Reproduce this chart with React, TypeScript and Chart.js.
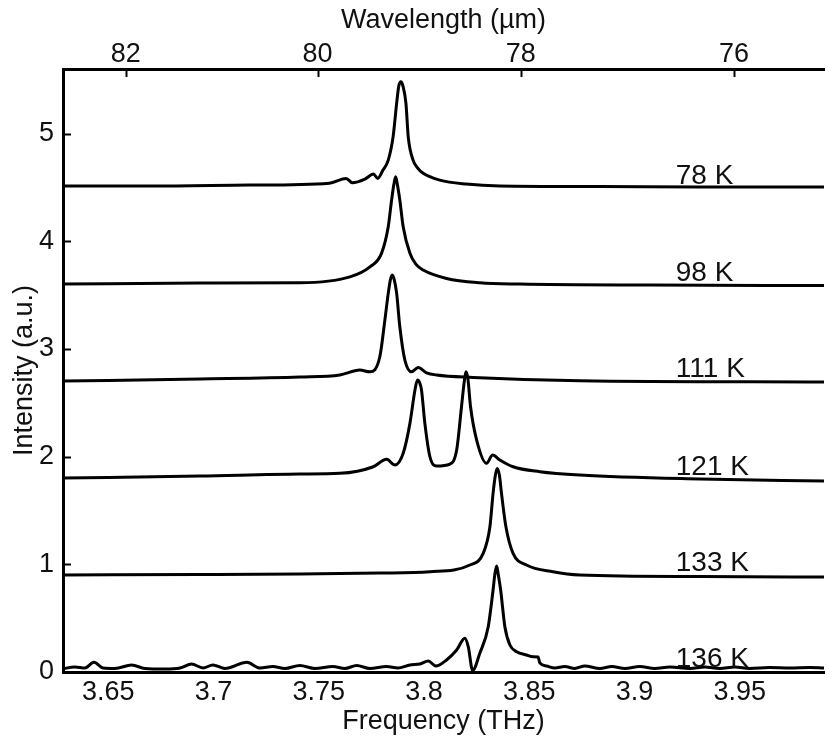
import React, { useEffect, useRef } from "react";
import { Chart, registerables } from "chart.js";

Chart.register(...registerables);

// ---------- Data ----------
const freqTicks = [3.65, 3.7, 3.75, 3.8, 3.85, 3.9, 3.95];
const freqTickLabels = ["3.65", "3.7", "3.75", "3.8", "3.85", "3.9", "3.95"];
const yTicks = [0, 1, 2, 3, 4, 5];
const wavelengthLabels = ["82", "80", "78", "76"];
const wavelengthTickFreqs = [3.6583, 3.7494, 3.8459, 3.9473];

const tempLabels = ["78 K", "98 K", "111 K", "121 K", "133 K", "136 K"];
const tempLabelLevels = [4.53, 3.63, 2.74, 1.83, 0.94, 0.05];
const tempLabelFreq = 3.9196;

const freq78 = [3.628, 3.670, 3.717, 3.755, 3.763, 3.766, 3.772, 3.776, 3.778, 3.7805, 3.783, 3.7853, 3.787, 3.788, 3.789, 3.790, 3.7914, 3.7925, 3.7948, 3.797, 3.7996, 3.8075, 3.820, 3.836, 3.8835, 3.931, 3.990];
const int78 = [4.513, 4.513, 4.522, 4.540, 4.584, 4.543, 4.578, 4.624, 4.584, 4.661, 4.754, 4.970, 5.283, 5.441, 5.481, 5.441, 5.283, 4.970, 4.754, 4.680, 4.631, 4.568, 4.531, 4.513, 4.508, 4.503, 4.503];

const freq98 = [3.628, 3.6936, 3.741, 3.7648, 3.7743, 3.7798, 3.783, 3.7846, 3.7857, 3.7865, 3.7873, 3.7885, 3.7901, 3.7933, 3.7961, 3.7996, 3.8107, 3.8265, 3.8455, 3.9073, 3.990];
const int98 = [3.603, 3.612, 3.615, 3.670, 3.763, 3.888, 4.135, 4.383, 4.531, 4.599, 4.531, 4.383, 4.135, 3.888, 3.788, 3.733, 3.655, 3.615, 3.603, 3.593, 3.589];

const freq111 = [3.628, 3.6936, 3.741, 3.760, 3.7695, 3.7743, 3.779, 3.7814, 3.783, 3.784, 3.7849, 3.7859, 3.787, 3.7885, 3.7909, 3.7941, 3.7972, 3.8012, 3.806, 3.8233, 3.874, 3.990];
const int111 = [2.702, 2.721, 2.739, 2.758, 2.804, 2.788, 2.928, 3.268, 3.516, 3.640, 3.686, 3.640, 3.516, 3.206, 2.897, 2.788, 2.827, 2.779, 2.758, 2.736, 2.705, 2.693];

const freq121 = [3.628, 3.6936, 3.741, 3.760, 3.7759, 3.7822, 3.7862, 3.7901, 3.7933, 3.7957, 3.7969, 3.798, 3.7988, 3.8004, 3.8028, 3.806, 3.8123, 3.8155, 3.8178, 3.8192, 3.8199, 3.8208, 3.8221, 3.825, 3.8297, 3.8326, 3.836, 3.8423, 3.855, 3.874, 3.931, 3.990];
const int121 = [1.801, 1.820, 1.839, 1.845, 1.906, 1.975, 1.922, 2.031, 2.309, 2.619, 2.711, 2.683, 2.619, 2.309, 1.999, 1.913, 1.931, 2.061, 2.463, 2.711, 2.788, 2.730, 2.463, 2.154, 1.938, 2.015, 1.969, 1.906, 1.860, 1.829, 1.792, 1.774];

const freq133 = [3.628, 3.6936, 3.741, 3.779, 3.8028, 3.8218, 3.8281, 3.8313, 3.8328, 3.8339, 3.8347, 3.8358, 3.8368, 3.8389, 3.8423, 3.8487, 3.8613, 3.874, 3.931, 3.990];
const int133 = [0.901, 0.905, 0.910, 0.919, 0.931, 0.994, 1.102, 1.349, 1.659, 1.829, 1.891, 1.829, 1.659, 1.349, 1.102, 0.994, 0.931, 0.901, 0.887, 0.882];

const freq136 = [3.628, 3.6342, 3.6389, 3.6432, 3.6475, 3.6532, 3.6611, 3.6674, 3.6769, 3.6841, 3.6896, 3.695, 3.6997, 3.7054, 3.7159, 3.722, 3.7282, 3.7339, 3.741, 3.7482, 3.7567, 3.7624, 3.768, 3.7743, 3.7822, 3.7876, 3.7933, 3.798, 3.802, 3.8056, 3.8107, 3.8155, 3.8194, 3.821, 3.8231, 3.8265, 3.8305, 3.8328, 3.8336, 3.8345, 3.8353, 3.8364, 3.8384, 3.8408, 3.844, 3.8487, 3.8518, 3.8542, 3.855, 3.8582, 3.8621, 3.8669, 3.8716, 3.8764, 3.8835, 3.8892, 3.8954, 3.9025, 3.9096, 3.9168, 3.9263, 3.9334, 3.9405, 3.9476, 3.9547, 3.9642, 3.9737, 3.9832, 3.990];
const int136 = [0.028, 0.047, 0.037, 0.090, 0.037, 0.033, 0.065, 0.033, 0.028, 0.037, 0.074, 0.037, 0.065, 0.033, 0.090, 0.037, 0.051, 0.033, 0.060, 0.033, 0.051, 0.033, 0.060, 0.033, 0.051, 0.037, 0.065, 0.074, 0.102, 0.056, 0.112, 0.204, 0.313, 0.235, 0.014, 0.174, 0.421, 0.762, 0.901, 0.984, 0.901, 0.762, 0.421, 0.251, 0.189, 0.158, 0.142, 0.139, 0.084, 0.056, 0.037, 0.051, 0.033, 0.056, 0.033, 0.051, 0.033, 0.051, 0.033, 0.047, 0.033, 0.047, 0.033, 0.047, 0.033, 0.042, 0.037, 0.042, 0.037];

const seriesFreqs = [freq78, freq98, freq111, freq121, freq133, freq136];
const seriesInts = [int78, int98, int111, int121, int133, int136];

const X_MIN = 3.6285;
const X_MAX = 3.99;
const Y_MIN = 0;
const Y_MAX = 5.6;

const FONT_FAMILY = '"Liberation Sans", Arial, Helvetica, sans-serif';
const TEXT_COLOR = "#111";
const FONT_SIZE = 27;

const overlayPlugin = {
  id: "overlay",
  afterDraw(chart: any) {
    const { ctx, chartArea, scales } = chart;
    ctx.save();
    ctx.strokeStyle = "#000";
    ctx.lineWidth = 2;
    yTicks.forEach((v) => {
      const py = Math.round(scales.y.getPixelForValue(v)) + 0.5;
      ctx.beginPath();
      ctx.moveTo(chartArea.left, py);
      ctx.lineTo(chartArea.left + 8, py);
      ctx.stroke();
    });
    wavelengthTickFreqs.forEach((f) => {
      const px = Math.round(scales.x2.getPixelForValue(f)) + 0.5;
      ctx.beginPath();
      ctx.moveTo(px, chartArea.top);
      ctx.lineTo(px, chartArea.top + 8);
      ctx.stroke();
    });
    ctx.font = `28px ${FONT_FAMILY}`;
    ctx.fillStyle = TEXT_COLOR;
    ctx.textAlign = "left";
    ctx.textBaseline = "alphabetic";
    tempLabels.forEach((t, i) => {
      ctx.fillText(
        t,
        scales.x.getPixelForValue(tempLabelFreq),
        scales.y.getPixelForValue(tempLabelLevels[i])
      );
    });
    ctx.restore();
  },
};

export default function App() {
  const ref = useRef<HTMLCanvasElement | null>(null);

  useEffect(() => {
    if (!ref.current) return;
    const datasets = seriesFreqs.map((fs, si) => ({
      label: tempLabels[si],
      data: fs.map((f, k) => ({ x: f, y: seriesInts[si][k] })),
      borderColor: "#000",
      borderWidth: 3,
      pointRadius: 0,
      fill: false,
      cubicInterpolationMode: "monotone" as const,
    }));

    const chart = new Chart(ref.current, {
      type: "line",
      data: { datasets },
      plugins: [overlayPlugin],
      options: {
        animation: false,
        responsive: false,
        devicePixelRatio: 1,
        layout: { padding: { left: 0, right: 1, top: 0, bottom: 0 } },
        plugins: {
          legend: { display: false },
          tooltip: { enabled: false },
        },
        scales: {
          x: {
            type: "linear",
            position: "bottom",
            min: X_MIN,
            max: X_MAX,
            afterBuildTicks: (s: any) => {
              s.ticks = freqTicks.map((v) => ({ value: v }));
            },
            afterFit: (s: any) => {
              s.height = 66;
            },
            grid: { display: false, drawTicks: false },
            border: { display: true, color: "#000", width: 3 },
            ticks: {
              padding: 7,
              color: TEXT_COLOR,
              maxRotation: 0,
              autoSkip: false,
              font: { family: FONT_FAMILY, size: FONT_SIZE, lineHeight: 1 },
              callback: (_v: any, i: number) => freqTickLabels[i],
            },
            title: {
              display: true,
              text: "Frequency (THz)",
              color: TEXT_COLOR,
              font: { family: FONT_FAMILY, size: FONT_SIZE, lineHeight: 1.2 },
              padding: { top: 0, bottom: 0 },
            },
          },
          x2: {
            type: "linear",
            position: "top",
            min: X_MIN,
            max: X_MAX,
            afterBuildTicks: (s: any) => {
              s.ticks = wavelengthTickFreqs.map((v) => ({ value: v }));
            },
            afterFit: (s: any) => {
              s.height = 69;
            },
            grid: { display: false, drawTicks: false },
            border: { display: true, color: "#000", width: 3 },
            ticks: {
              padding: 1,
              color: TEXT_COLOR,
              maxRotation: 0,
              autoSkip: false,
              font: { family: FONT_FAMILY, size: FONT_SIZE, lineHeight: 1 },
              callback: (_v: any, i: number) => wavelengthLabels[i],
            },
            title: {
              display: true,
              text: "Wavelength (µm)",
              color: TEXT_COLOR,
              font: { family: FONT_FAMILY, size: FONT_SIZE, lineHeight: 1.2 },
              padding: { top: 4.5, bottom: 0 },
            },
          },
          y: {
            type: "linear",
            position: "left",
            min: Y_MIN,
            max: Y_MAX,
            afterBuildTicks: (s: any) => {
              s.ticks = yTicks.map((v) => ({ value: v }));
            },
            afterFit: (s: any) => {
              s.width = 63;
            },
            grid: { display: false, drawTicks: false },
            border: { display: true, color: "#000", width: 3 },
            ticks: {
              padding: 9,
              color: TEXT_COLOR,
              font: { family: FONT_FAMILY, size: FONT_SIZE, lineHeight: 1 },
              callback: (v: any) => String(v),
            },
            title: {
              display: true,
              text: "Intensity (a.u.)",
              color: TEXT_COLOR,
              font: { family: FONT_FAMILY, size: FONT_SIZE, lineHeight: 1.2 },
              padding: { top: 8.8, bottom: 0 },
            },
          },
        },
      },
    } as any);

    return () => chart.destroy();
  }, []);

  return (
    <div
      style={{
        position: "absolute",
        left: 0,
        top: 0,
        width: 825,
        height: 738,
        background: "#fff",
      }}
    >
      <canvas
        ref={ref}
        width={825}
        height={738}
        style={{ width: 825, height: 738, display: "block" }}
      />
    </div>
  );
}
